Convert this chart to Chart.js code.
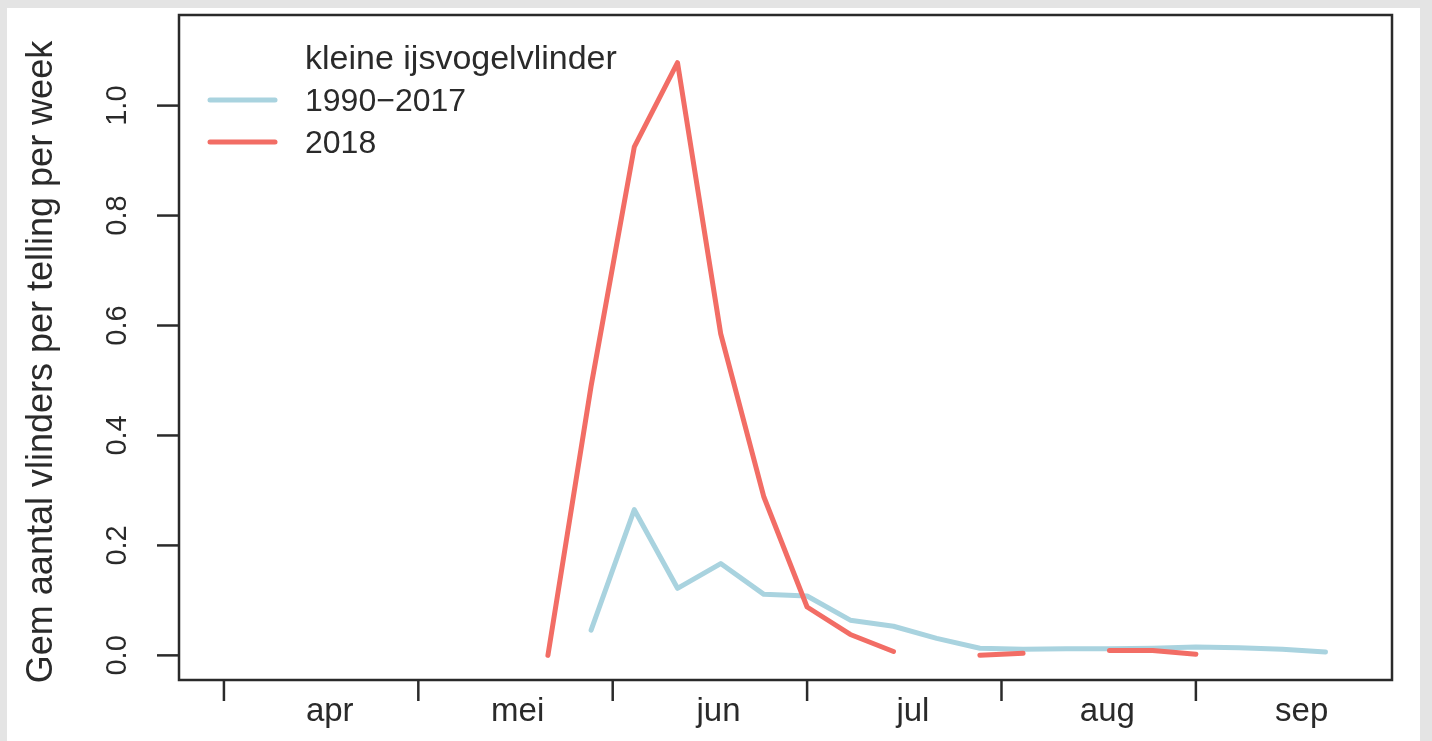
<!DOCTYPE html>
<html>
<head>
<meta charset="utf-8">
<script src="https://cdn.jsdelivr.net/npm/chart.js@4/dist/chart.umd.min.js"></script>
<style>
  html, body { margin: 0; padding: 0; background: #e4e4e4; }
  canvas { display: block; }
</style>
</head>
<body>
<canvas id="grafiek" width="1432" height="741"></canvas>
<script>
// weeknummers (x-as)
const weken = [19, 20, 21, 22, 23, 24, 25, 26, 27, 28, 29, 30, 31, 32, 33, 34, 35, 36, 37];
// gemiddelde 1990-2017
const gem_1990_2017 = [null, 0.046, 0.265, 0.122, 0.167, 0.111, 0.108, 0.064, 0.053, 0.031,
  0.013, 0.011, 0.012, 0.012, 0.013, 0.015, 0.014, 0.011, 0.006];
// jaar 2018 (null = geen telling)
const gem_2018 = [0.0, 0.49, 0.925, 1.078, 0.585, 0.288, 0.088, 0.038, 0.007, null,
  0.0, 0.004, null, 0.009, 0.009, 0.002, null, null, null];

// maandgrenzen en maandnamen
const maandGrenzen = [11.5, 16, 20.5, 25, 29.5, 34];
const maandNamen = ["apr", "mei", "jun", "jul", "aug", "sep"];
const maandMidden = [13.95, 18.3, 22.95, 27.45, 31.95, 36.45];
const yTicks = [0, 0.2, 0.4, 0.6, 0.8, 1.0];

const legendaTitel = "kleine ijsvogelvlinder";
const reeksNamen = ["1990\u22122017", "2018"];
const kleuren = ["#a9d3df", "#f26d65"];

const lettertype = '"Liberation Sans", Arial, Helvetica, sans-serif';

function punten(waarden) {
  return weken.map((w, i) => ({ x: w, y: waarden[i] }));
}

// R-achtige assen, kader en legenda
const rStijl = {
  id: "rStijl",
  beforeDraw(chart) {
    const ctx = chart.ctx;
    ctx.save();
    ctx.fillStyle = "#e4e4e4";
    ctx.fillRect(0, 0, chart.width, chart.height);
    ctx.fillStyle = "#ffffff";
    ctx.fillRect(7, 8, chart.width - 19, chart.height - 8);
    ctx.restore();
  },
  afterDraw(chart) {
    const ctx = chart.ctx;
    const a = chart.chartArea;
    const x = chart.scales.x;
    const y = chart.scales.y;
    ctx.save();
    ctx.strokeStyle = "#2a2a2a";
    ctx.lineWidth = 2.5;
    ctx.strokeRect(a.left, a.top, a.right - a.left, a.bottom - a.top);

    // y-as tickjes en labels
    ctx.fillStyle = "#2a2a2a";
    ctx.font = "29px " + lettertype;
    yTicks.forEach(v => {
      const py = y.getPixelForValue(v);
      ctx.beginPath();
      ctx.moveTo(a.left - 22, py);
      ctx.lineTo(a.left, py);
      ctx.stroke();
      ctx.save();
      ctx.translate(118, py);
      ctx.rotate(-Math.PI / 2);
      ctx.textAlign = "center";
      ctx.textBaseline = "middle";
      ctx.fillText(v.toFixed(1), 0, 0);
      ctx.restore();
    });

    // x-as tickjes en maandnamen
    maandGrenzen.forEach(w => {
      const px = x.getPixelForValue(w);
      ctx.beginPath();
      ctx.moveTo(px, a.bottom);
      ctx.lineTo(px, a.bottom + 21);
      ctx.stroke();
    });
    ctx.font = "33px " + lettertype;
    ctx.textAlign = "center";
    ctx.textBaseline = "alphabetic";
    maandNamen.forEach((m, i) => {
      ctx.fillText(m, x.getPixelForValue(maandMidden[i]), 721);
    });

    // y-as titel
    ctx.save();
    ctx.translate(42, 362);
    ctx.rotate(-Math.PI / 2);
    ctx.textBaseline = "middle";
    ctx.font = "36px " + lettertype;
    ctx.fillText("Gem aantal vlinders per telling per week", 0, 0);
    ctx.restore();

    // legenda
    ctx.textAlign = "left";
    ctx.textBaseline = "middle";
    ctx.font = "34px " + lettertype;
    ctx.fillText(legendaTitel, 305, 60);
    ctx.font = "32px " + lettertype;
    ctx.lineWidth = 5;
    ctx.lineCap = "round";
    reeksNamen.forEach((naam, i) => {
      const ly = 100 + i * 42;
      ctx.strokeStyle = kleuren[i];
      ctx.beginPath();
      ctx.moveTo(210, ly);
      ctx.lineTo(275, ly);
      ctx.stroke();
      ctx.fillStyle = "#2a2a2a";
      ctx.fillText(naam, 305, ly + 2);
    });
    ctx.restore();
  }
};

new Chart(document.getElementById("grafiek"), {
  type: "line",
  data: {
    datasets: [
      {
        label: reeksNamen[0],
        data: punten(gem_1990_2017),
        borderColor: kleuren[0],
        order: 2
      },
      {
        label: reeksNamen[1],
        data: punten(gem_2018),
        borderColor: kleuren[1],
        order: 1
      }
    ]
  },
  options: {
    responsive: false,
    animation: false,
    spanGaps: false,
    layout: { padding: { left: 179, top: 15, right: 40, bottom: 61 } },
    elements: {
      line: { borderWidth: 5, tension: 0, borderCapStyle: "round", borderJoinStyle: "round" },
      point: { radius: 0 }
    },
    scales: {
      x: { type: "linear", min: 10.46, max: 38.54, display: false },
      y: { min: -0.0448, max: 1.1648, display: false }
    },
    plugins: {
      legend: { display: false },
      tooltip: { enabled: false }
    }
  },
  plugins: [rStijl]
});
</script>
</body>
</html>
